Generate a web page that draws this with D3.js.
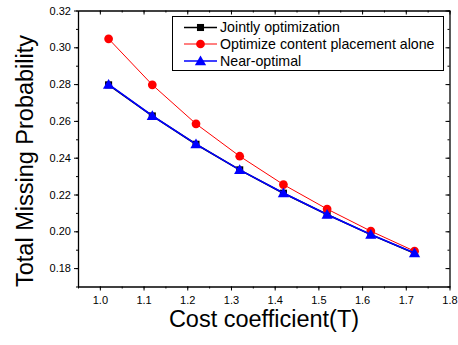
<!DOCTYPE html>
<html>
<head>
<meta charset="utf-8">
<script src="https://cdn.jsdelivr.net/npm/d3@7"></script>
<style>
  body { margin: 0; background: #fff; }
  svg { display: block; font-family: Arial, "Liberation Sans", sans-serif; }
</style>
</head>
<body>
<div id="chart"></div>
<script>
const costT = [1.02, 1.12, 1.22, 1.32, 1.42, 1.52, 1.62, 1.72];
const jointly = [0.2796, 0.2627, 0.2473, 0.2334, 0.2207, 0.2091, 0.1982, 0.1881];
const contentAlone = [0.3046, 0.2796, 0.2584, 0.2408, 0.2254, 0.2121, 0.2001, 0.1892];
const nearOptimal = [0.2798, 0.2628, 0.2474, 0.2334, 0.2208, 0.2091, 0.1983, 0.1882];
const seriesNames = ["Jointly optimization", "Optimize content placement alone", "Near-optimal"];
const xTicks = [1.0, 1.1, 1.2, 1.3, 1.4, 1.5, 1.6, 1.7, 1.8];
const yTicks = [0.18, 0.20, 0.22, 0.24, 0.26, 0.28, 0.30, 0.32];

const width = 458, height = 345;
const plot = { left: 78, right: 449.5, top: 10.5, bottom: 286.5 };

const x = d3.scaleLinear().domain([0.95, 1.8]).range([plot.left, plot.right]);
const y = d3.scaleLinear().domain([0.17, 0.32]).range([plot.bottom, plot.top]);

const svg = d3.select("#chart").append("svg")
    .attr("width", width)
    .attr("height", height);

const xMinor = d3.range(0.95, 1.8001, 0.05);
const yMinor = d3.range(0.17, 0.3201, 0.01);

// bottom axis, ticks outward
const xAxis = svg.append("g")
    .attr("transform", `translate(0,${plot.bottom})`)
    .call(d3.axisBottom(x).tickValues(xTicks).tickFormat(d3.format(".1f")).tickSize(4).tickSizeOuter(0));
xAxis.selectAll("text").attr("font-size", 11).attr("fill", "#000").attr("dy", "0.95em");
svg.append("g")
    .attr("transform", `translate(0,${plot.bottom})`)
    .call(d3.axisBottom(x).tickValues(xMinor).tickFormat("").tickSize(2).tickSizeOuter(0))
    .call(g => g.select(".domain").remove());

// left axis, ticks outward
const yAxis = svg.append("g")
    .attr("transform", `translate(${plot.left},0)`)
    .call(d3.axisLeft(y).tickValues(yTicks).tickFormat(d3.format(".2f")).tickSize(4).tickSizeOuter(0));
yAxis.selectAll("text").attr("font-size", 11).attr("fill", "#000");
svg.append("g")
    .attr("transform", `translate(${plot.left},0)`)
    .call(d3.axisLeft(y).tickValues(yMinor).tickFormat("").tickSize(2).tickSizeOuter(0))
    .call(g => g.select(".domain").remove());

// top axis, ticks inward
svg.append("g")
    .attr("transform", `translate(0,${plot.top})`)
    .call(d3.axisTop(x).tickValues(xTicks).tickFormat("").tickSize(-4).tickSizeOuter(0));
svg.append("g")
    .attr("transform", `translate(0,${plot.top})`)
    .call(d3.axisTop(x).tickValues(xMinor).tickFormat("").tickSize(-2).tickSizeOuter(0))
    .call(g => g.select(".domain").remove());

// right axis, ticks inward
svg.append("g")
    .attr("transform", `translate(${plot.right},0)`)
    .call(d3.axisRight(y).tickValues(yTicks).tickFormat("").tickSize(-4).tickSizeOuter(0));
svg.append("g")
    .attr("transform", `translate(${plot.right},0)`)
    .call(d3.axisRight(y).tickValues(yMinor).tickFormat("").tickSize(-2).tickSizeOuter(0))
    .call(g => g.select(".domain").remove());

svg.selectAll(".domain").attr("stroke", "#000").attr("stroke-width", 1.3);
svg.selectAll(".tick line").attr("stroke", "#000");

// axis titles
svg.append("text")
    .attr("x", 264)
    .attr("y", 327)
    .attr("text-anchor", "middle")
    .attr("font-size", 23.5)
    .text("Cost coefficient(T)");

svg.append("text")
    .attr("transform", "translate(33,161) rotate(-90)")
    .attr("text-anchor", "middle")
    .attr("font-size", 23.5)
    .text("Total Missing Probability");

const series = [
  { name: seriesNames[0], values: jointly, color: "#000", width: 1.6, marker: "square" },
  { name: seriesNames[1], values: contentAlone, color: "#ff0000", width: 1, marker: "circle" },
  { name: seriesNames[2], values: nearOptimal, color: "#0000ff", width: 1.6, marker: "triangle" }
];

const symbolOf = {
  square: d3.symbol().type(d3.symbolSquare).size(50),
  circle: d3.symbol().type(d3.symbolCircle).size(60),
  triangle: d3.symbol().type(d3.symbolTriangle).size(55)
};

const line = d3.line().x(d => x(d[0])).y(d => y(d[1]));

series.forEach(s => {
  const pts = costT.map((t, i) => [t, s.values[i]]);
  svg.append("path")
      .datum(pts)
      .attr("fill", "none")
      .attr("stroke", s.color)
      .attr("stroke-width", s.width)
      .attr("d", line);
  svg.append("g").selectAll("path")
    .data(pts)
    .join("path")
      .attr("transform", d => `translate(${x(d[0])},${y(d[1]) + (s.marker === "triangle" ? 1 : 0)})`)
      .attr("d", symbolOf[s.marker]())
      .attr("fill", s.color);
});

// legend
const legend = svg.append("g");
legend.append("rect")
    .attr("x", 172.5)
    .attr("y", 16.5)
    .attr("width", 271)
    .attr("height", 54)
    .attr("fill", "#fff")
    .attr("stroke", "#000")
    .attr("stroke-width", 1);

const rowY = [27.5, 44, 61];
series.forEach((s, i) => {
  const g = legend.append("g").attr("transform", `translate(0,${rowY[i]})`);
  g.append("line")
      .attr("x1", 184).attr("x2", 217)
      .attr("stroke", s.color)
      .attr("stroke-width", s.width);
  g.append("path")
      .attr("transform", `translate(200.5,${s.marker === "triangle" ? 1 : 0})`)
      .attr("d", symbolOf[s.marker]())
      .attr("fill", s.color);
  g.append("text")
      .attr("x", 220)
      .attr("dy", "0.35em")
      .attr("font-size", 14.2)
      .text(s.name);
});
</script>
</body>
</html>
